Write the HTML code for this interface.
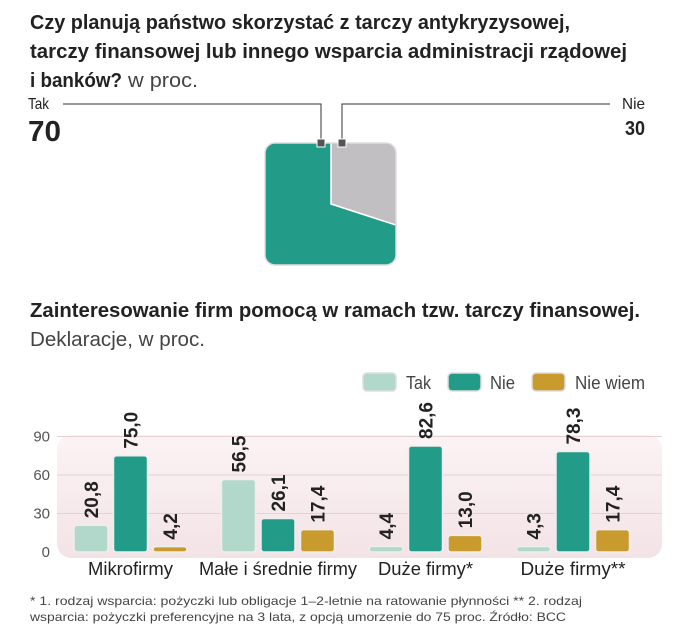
<!DOCTYPE html>
<html><head><meta charset="utf-8"><style>
html,body{margin:0;padding:0;background:#fff;}
svg{display:block;font-family:"Liberation Sans",sans-serif;}
</style></head><body>
<svg width="674" height="640" viewBox="0 0 674 640">
<defs>
<clipPath id="pieclip"><rect x="265" y="143" width="131" height="122" rx="10"/></clipPath>
<linearGradient id="plotbg" x1="0" y1="0" x2="0" y2="1"><stop offset="0" stop-color="#fbf3f4"/><stop offset="1" stop-color="#f3e3e6"/></linearGradient>
</defs>
<g font-weight="bold" font-size="20" fill="#222">
<text x="30" y="29" textLength="540" lengthAdjust="spacingAndGlyphs">Czy planują państwo skorzystać z tarczy antykryzysowej,</text>
<text x="30" y="58" textLength="597" lengthAdjust="spacingAndGlyphs">tarczy finansowej lub innego wsparcia administracji rządowej</text>
<text x="30" y="87" textLength="92" lengthAdjust="spacingAndGlyphs">i banków?</text>
</g>
<text x="128" y="87" font-size="20" fill="#444" textLength="70" lengthAdjust="spacingAndGlyphs">w proc.</text>

<g id="pie"></g>
<g>
<text x="28" y="109" font-size="16" fill="#222" textLength="21" lengthAdjust="spacingAndGlyphs">Tak</text>
<text x="28" y="141" font-size="29" font-weight="bold" fill="#222" textLength="33" lengthAdjust="spacingAndGlyphs">70</text>
<text x="622" y="109" font-size="16" fill="#222" textLength="23" lengthAdjust="spacingAndGlyphs">Nie</text>
<text x="625" y="135" font-size="20" font-weight="bold" fill="#222" textLength="20" lengthAdjust="spacingAndGlyphs">30</text>
<polyline points="63,104 321,104 321,143" fill="none" stroke="#333" stroke-width="1"/>
<polyline points="610,104 342,104 342,143" fill="none" stroke="#333" stroke-width="1"/>
<rect x="317" y="139" width="8" height="8" fill="#555" stroke="#fff" stroke-width="1"/>
<rect x="338" y="139" width="8" height="8" fill="#555" stroke="#fff" stroke-width="1"/>
</g>

<text x="30" y="317" font-size="20" font-weight="bold" fill="#222" textLength="610" lengthAdjust="spacingAndGlyphs">Zainteresowanie firm pomocą w ramach tzw. tarczy finansowej.</text>
<text x="30" y="346" font-size="20" fill="#444" textLength="175" lengthAdjust="spacingAndGlyphs">Deklaracje, w proc.</text>

<g font-size="18" fill="#444">
<g><rect x="363" y="373" width="33" height="18" rx="4" fill="#b2d8cc" stroke="#ddd" stroke-width="1.5"/><text x="406" y="389" textLength="25" lengthAdjust="spacingAndGlyphs">Tak</text></g>
<g><rect x="448" y="373" width="33" height="18" rx="4" fill="#239b89" stroke="#ddd" stroke-width="1.5"/><text x="490" y="389" textLength="25" lengthAdjust="spacingAndGlyphs">Nie</text></g>
<g><rect x="532" y="373" width="33" height="18" rx="4" fill="#c99a2e" stroke="#ddd" stroke-width="1.5"/><text x="575" y="389" textLength="70" lengthAdjust="spacingAndGlyphs">Nie wiem</text></g>
</g>
<rect x="57" y="435" width="605" height="123" rx="14" fill="url(#plotbg)"/>
<g id="bars"></g>

<g font-size="12" fill="#444">
<text x="30" y="605" textLength="552" lengthAdjust="spacingAndGlyphs">* 1. rodzaj wsparcia: pożyczki lub obligacje 1–2-letnie na ratowanie płynności ** 2. rodzaj</text>
<text x="30" y="621" textLength="536" lengthAdjust="spacingAndGlyphs">wsparcia: pożyczki preferencyjne na 3 lata, z opcją umorzenie do 75 proc.  Źródło: BCC</text>
</g>
</svg>
<script>
const pieLabels = ["Tak","Nie"];
const pieValues = [70, 30];
const categories = ["Mikrofirmy","Małe i średnie firmy","Duże firmy*","Duże firmy**"];
const takValues = [20.8, 56.5, 4.4, 4.3];
const nieValues = [75.0, 26.1, 82.6, 78.3];
const nieWiemValues = [4.2, 17.4, 13.0, 17.4];
const yTicks = [0, 30, 60, 90];

const NS = "http://www.w3.org/2000/svg";
function mk(tag, attrs, parent){const e=document.createElementNS(NS,tag);for(const k in attrs)e.setAttribute(k,attrs[k]);parent.appendChild(e);return e;}

// pie
const pie = document.getElementById('pie');
const pg = mk('g',{'clip-path':'url(#pieclip)'},pie);
const cx=331, cy=204, R=200;
const pieColors=["#239b89","#c1bfc1"];
const total = pieValues.reduce((a,b)=>a+b,0);
let startA = 0;
const order=[1,0];
order.forEach(i=>{
  const sweep = pieValues[i]/total*2*Math.PI;
  const a0=startA, a1=startA+sweep;
  const x0=cx+R*Math.sin(a0), y0=cy-R*Math.cos(a0), x1=cx+R*Math.sin(a1), y1=cy-R*Math.cos(a1);
  const large = sweep>Math.PI?1:0;
  const p = mk('path',{d:`M${cx},${cy} L${x0},${y0} A${R},${R} 0 ${large} 1 ${x1},${y1} Z`,fill:pieColors[i],stroke:'#fff','stroke-width':1.5},pg);
  
  
  startA=a1;
});
mk('rect',{x:265,y:143,width:131,height:122,rx:10,fill:'none',stroke:'#ddd','stroke-width':1.5},pie);

// bars
const bars = document.getElementById('bars');
const y0px=552, pxPerUnit=38.5/30;
const yS = v => y0px - v*pxPerUnit;
const groupX = i => 74 + i*147.5;
const barW=34, barStep=39.5;
const catLens=[85,158,95,105];
yTicks.forEach(t=>{
  if(t>0){const l=mk('line',{x1:57,x2:662,y1:yS(t),y2:yS(t),stroke:'#e6d0d4','stroke-width':1},bars);
  
  }
  const tx=mk('text',{x:50,y:yS(t)+5,'font-size':15,fill:'#555','text-anchor':'end'},bars);
  tx.textContent=t;
  
  
});
const series=[{n:'tak',v:takValues,c:'#b2d8cc'},{n:'nie',v:nieValues,c:'#239b89'},{n:'nie-wiem',v:nieWiemValues,c:'#c99a2e'}];
categories.forEach((cat,i)=>{
  series.forEach((s,j)=>{
    const v=s.v[i];
    const x=groupX(i)+j*barStep;
    const top=yS(v);
    const r=mk('rect',{x:x,y:top,width:barW,height:Math.max(y0px-top,3),rx:3,fill:s.c,stroke:'#eee','stroke-width':1.5},bars);
    
    
    const lx=x+barW/2+7, ly=top-7;
    const t=mk('text',{x:lx,y:ly,'font-size':19,'font-weight':'bold',fill:'#222',transform:`rotate(-90 ${lx} ${ly})`},bars);
    t.textContent=v.toFixed(1).replace('.',',');
    
    
  });
  const cl=mk('text',{x:groupX(i)+barStep+barW/2,y:575,'font-size':18,fill:'#222','text-anchor':'middle',textLength:catLens[i],lengthAdjust:'spacingAndGlyphs'},bars);
  cl.textContent=cat;
  
  
});
</script>
</body></html>
